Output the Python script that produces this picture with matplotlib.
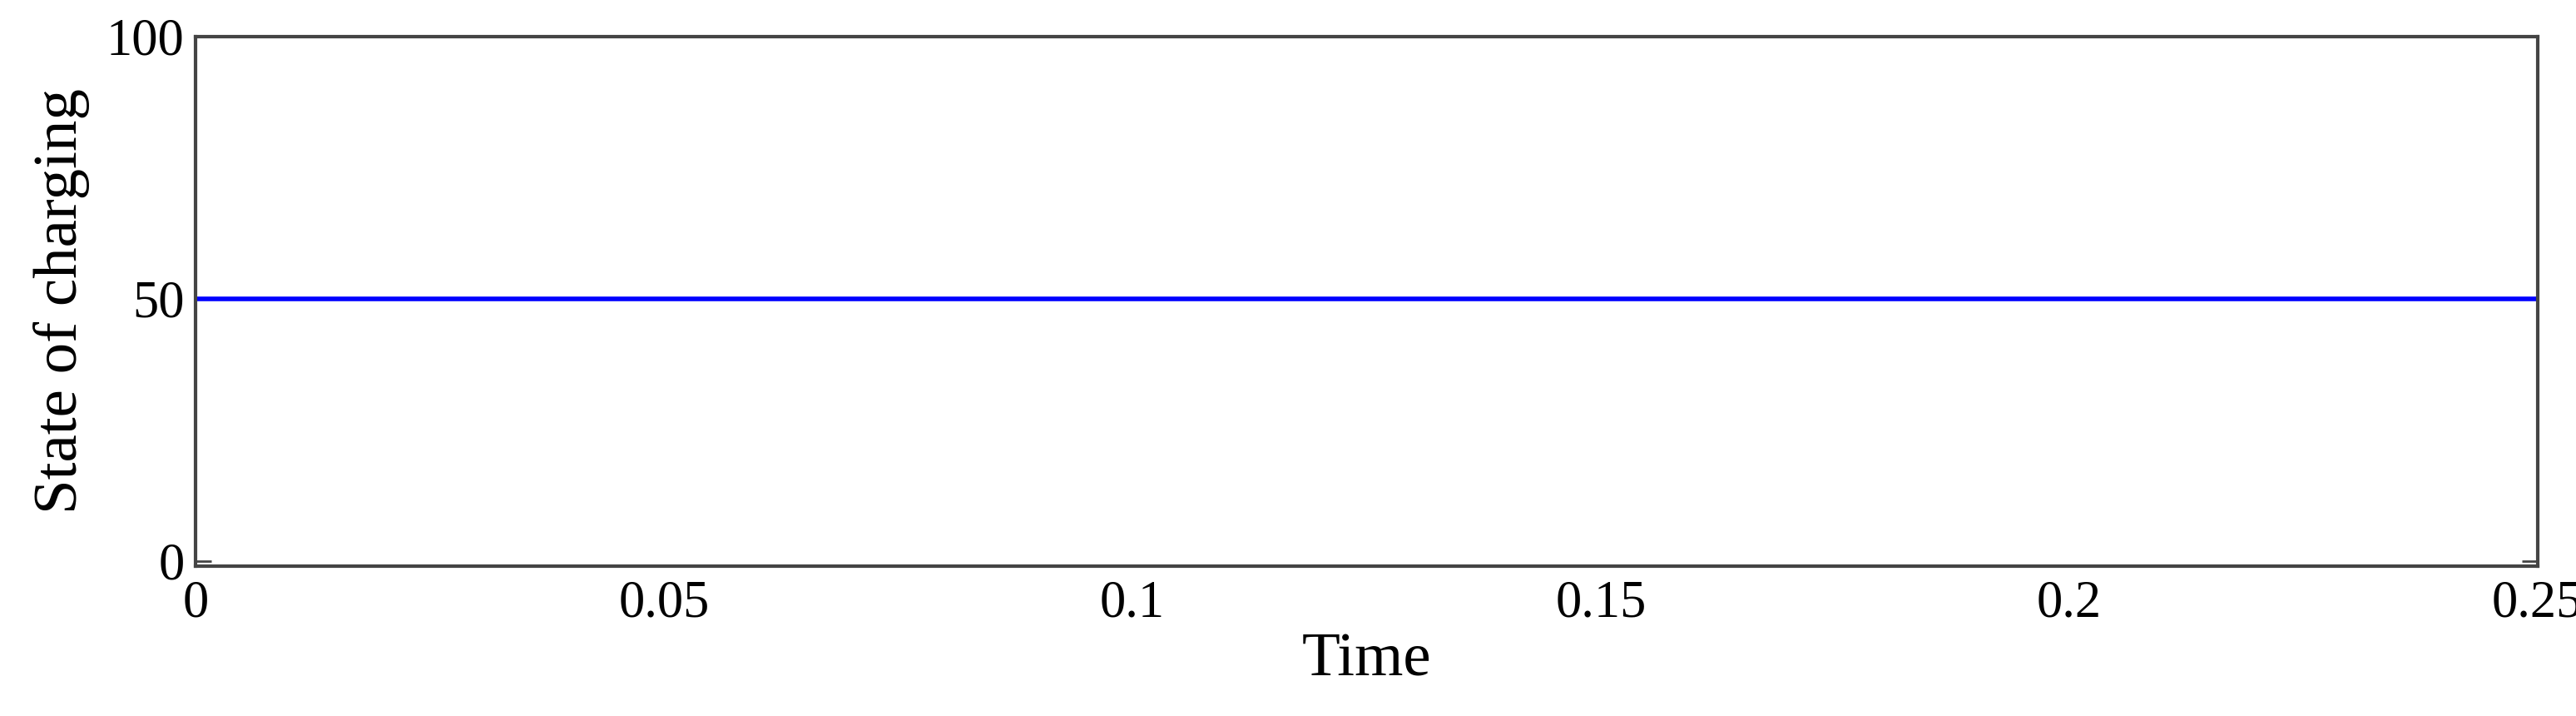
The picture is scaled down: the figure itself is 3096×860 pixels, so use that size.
import matplotlib
matplotlib.use("Agg")
import matplotlib.pyplot as plt

# data: constant state of charging over the simulation time
time = [0.0, 0.25]
soc = [50.0, 50.0]
x_ticks = [0, 0.05, 0.1, 0.15, 0.2, 0.25]
x_labels = ['0', '0.05', '0.1', '0.15', '0.2', '0.25']
y_ticks = [0, 50, 100]

plt.rcParams['font.family'] = ['Liberation Serif', 'DejaVu Serif']

fig = plt.figure(figsize=(30.96, 8.6), dpi=100)
ax = fig.add_axes([0.076, 0.209, 0.909, 0.74])

ax.plot(time, soc, color='#0000ff', linewidth=4)

ax.set_xlim(0, 0.25)
ax.set_ylim(-1, 100)
ax.set_xticks(x_ticks)
ax.set_xticklabels(x_labels)
ax.set_yticks(y_ticks)
ax.tick_params(direction='in', length=14, width=2, color='#444444',
               labelsize=45, top=True, right=True, pad=10)
ax.tick_params(axis='x', length=0, pad=12)
for s in ax.spines.values():
    s.set_linewidth(3)
    s.set_color('#444444')

ax.set_xlabel('Time', fontsize=54, labelpad=4)
ax.set_ylabel('State of charging', fontsize=54, labelpad=14)

fig.savefig('out.png', dpi=100)
